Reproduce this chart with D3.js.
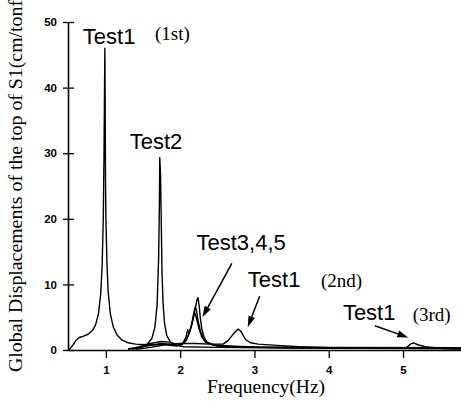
<!DOCTYPE html>
<html><head><meta charset="utf-8">
<script src="https://cdn.jsdelivr.net/npm/d3@7"></script>
<style>
html,body{margin:0;padding:0;background:#fff;}
svg{display:block;}
</style></head>
<body>
<svg id="chart" width="461" height="401"></svg>
<script>
// ---- data: [frequency (Hz), global displacement (cm/tonf)] ----
const test1 = [[0.49,0],[0.52,0.2],[0.56,0.8],[0.60,1.5],[0.64,1.9],[0.70,2.1],[0.76,2.4],[0.82,3.0],[0.86,3.8],[0.90,5.5],[0.93,8.5],[0.95,13],[0.965,20],[0.975,30],[0.982,40],[0.986,46],[0.99,38],[0.995,26],[1.00,20],[1.015,13],[1.03,9],[1.06,5.5],[1.10,3.5],[1.15,2.3],[1.22,1.5],[1.30,1.1],[1.40,0.9],[1.55,0.8],[1.70,0.8],[1.85,0.9],[2.0,1.0],[2.2,1.0],[2.4,0.9],[2.58,0.9],[2.65,1.5],[2.72,2.5],[2.78,3.2],[2.82,2.8],[2.88,1.6],[2.95,1.1],[3.05,0.9],[3.3,0.7],[3.6,0.5],[4.0,0.35],[4.5,0.25],[4.9,0.25],[5.05,0.4],[5.10,0.9],[5.14,1.1],[5.2,0.8],[5.3,0.5],[5.45,0.3],[5.6,0.2],[5.78,0.15]];
const test2 = [[1.30,0.2],[1.45,0.4],[1.55,0.8],[1.62,1.8],[1.66,3.5],[1.69,7],[1.71,14],[1.72,22],[1.725,29.3],[1.735,27],[1.745,20],[1.755,12],[1.77,7],[1.79,4],[1.82,2.2],[1.87,1.2],[1.95,0.7],[2.05,0.5],[2.5,0.4],[3.5,0.3],[4.5,0.25],[5.78,0.2]];
const test3 = [[1.30,0.1],[1.45,0.5],[1.6,1.0],[1.75,1.3],[1.85,1.2],[1.95,0.9],[2.02,0.9],[2.08,1.5],[2.13,2.8],[2.17,4.5],[2.2,6.2],[2.225,7.6],[2.24,8.0],[2.255,6.8],[2.27,5],[2.29,3.3],[2.32,2.0],[2.36,1.2],[2.45,0.8],[2.7,0.5],[3.5,0.35],[4.5,0.3],[5.78,0.25]];
const test4 = [[1.35,0.1],[1.55,0.6],[1.75,1.0],[1.9,0.8],[2.0,0.7],[2.07,1.3],[2.12,2.5],[2.16,4.2],[2.19,6.0],[2.205,6.6],[2.22,6.0],[2.24,4.5],[2.27,3.0],[2.31,1.8],[2.36,1.1],[2.5,0.6],[3.0,0.4],[4.0,0.35],[5.78,0.3]];
const test5 = [[1.40,0.1],[1.6,0.4],[1.8,0.8],[1.95,0.6],[2.03,0.9],[2.08,2.0],[2.1,3.1],[2.12,2.6],[2.15,3.6],[2.18,5.2],[2.2,5.6],[2.22,4.8],[2.25,3.4],[2.29,2.0],[2.34,1.2],[2.45,0.7],[3.0,0.45],[4.0,0.4],[5.78,0.35]];
const xTicks = [1,2,3,4,5];
const yTicks = [0,10,20,30,40,50];
const xTitle = "Frequency(Hz)";
const yTitle = "Global Displacements of the top of S1(cm/tonf";
// annotation labels: [text, freq, value]
const labels = [["Test1",0.69,46.6],["Test2",1.32,30.6],["Test3,4,5",2.22,15.3],["Test1",2.91,9.6],["Test1",4.19,4.6]];
// mode notes: [text, freq, value]
const notes = [["(1st)",1.66,47.3],["(2nd)",3.895,9.6],["(3rd)",5.13,4.4]];
// arrows: [fromF, fromV, toF, toV]
const arrows = [[2.695,13.2,2.30,5.0],[3.07,8.2,2.91,3.5],[4.62,3.7,5.07,1.9]];

// ---- chart ----
const svg = d3.select("#chart");
const x = d3.scaleLinear().domain([0.49,5.78]).range([68,461]);
const y = d3.scaleLinear().domain([0,50]).range([350,22]);

const line = d3.line().x(d=>x(d[0])).y(d=>y(d[1]));
[test5,test4,test3,test2,test1].forEach(s=>{
  svg.append("path").attr("d",line(s)).attr("fill","none")
    .attr("stroke","#000").attr("stroke-width",1.4).attr("stroke-linejoin","round");
});

const gy = svg.append("g").attr("transform","translate(68,0)")
  .call(d3.axisLeft(y).tickValues(yTicks).tickSize(5).tickSizeOuter(0).tickPadding(6));
gy.selectAll(".tick line").attr("x1",-5).attr("x2",6).attr("stroke-width",1.3);
gy.select(".domain").attr("stroke-width",1.6);
gy.selectAll("text").attr("font-family","Liberation Sans, Arial, sans-serif").attr("font-weight","bold").attr("font-size",11.5).attr("fill","#000");

const gx = svg.append("g").attr("transform","translate(0,350)")
  .call(d3.axisBottom(x).tickValues(xTicks).tickSize(8).tickSizeOuter(0).tickPadding(8).tickFormat(d3.format("d")));
gx.selectAll(".tick line").attr("stroke-width",1.3);
gx.select(".domain").attr("stroke-width",1.6);
gx.selectAll("text").attr("font-family","Liberation Sans, Arial, sans-serif").attr("font-weight","bold").attr("font-size",11.5).attr("fill","#000");

svg.append("text").attr("x",207).attr("y",393)
  .attr("font-family","Liberation Serif, Times New Roman, serif").attr("font-size",19.5)
  .text(xTitle);
svg.append("text").attr("transform","translate(22,372) rotate(-90)")
  .attr("font-family","Liberation Serif, Times New Roman, serif").attr("font-size",18)
  .attr("textLength",372).attr("lengthAdjust","spacingAndGlyphs")
  .text(yTitle);

labels.forEach(l=>svg.append("text").attr("x",x(l[1])).attr("y",y(l[2]))
  .attr("font-family","Liberation Sans, Arial, sans-serif").attr("font-size",22).text(l[0]));
notes.forEach(n=>svg.append("text").attr("x",x(n[1])).attr("y",y(n[2]))
  .attr("font-family","Liberation Serif, Times New Roman, serif").attr("font-size",19).text(n[0]));

arrows.forEach(a=>{
  const x1=x(a[0]),y1=y(a[1]),x2=x(a[2]),y2=y(a[3]);
  const ang=Math.atan2(y2-y1,x2-x1), L=11, W=3.5;
  const bx=x2-L*Math.cos(ang), by=y2-L*Math.sin(ang);
  svg.append("line").attr("x1",x1).attr("y1",y1).attr("x2",bx).attr("y2",by).attr("stroke","#000").attr("stroke-width",1.5);
  const px=-Math.sin(ang)*W, py=Math.cos(ang)*W;
  svg.append("path").attr("d",`M${x2},${y2}L${bx+px},${by+py}L${bx-px},${by-py}Z`).attr("fill","#000");
});
</script>
</body></html>
